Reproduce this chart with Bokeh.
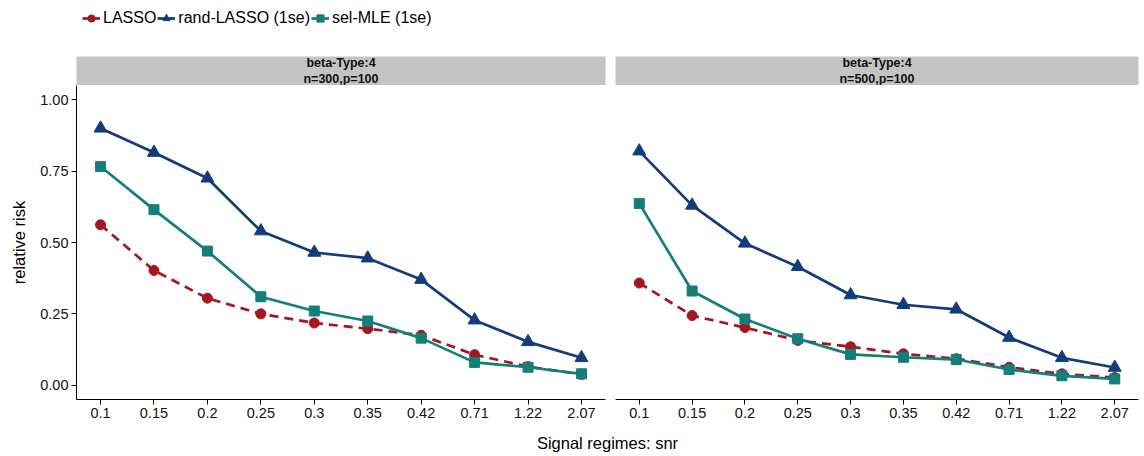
from bokeh.plotting import figure
from bokeh.layouts import column, row
from bokeh.models import Range1d, FixedTicker, Legend, LegendItem, NumeralTickFormatter
from bokeh.core.properties import value
from bokeh.embed import file_html
from bokeh.resources import INLINE

# ---------------- data ----------------
snr = ["0.1", "0.15", "0.2", "0.25", "0.3", "0.35", "0.42", "0.71", "1.22", "2.07"]
methods = ["LASSO", "rand-LASSO (1se)", "sel-MLE (1se)"]
panel_titles = ["beta-Type:4\nn=300,p=100", "beta-Type:4\nn=500,p=100"]
y_ticks = [0.0, 0.25, 0.5, 0.75, 1.0]

# panel n=300
lasso_300 = [0.562, 0.402, 0.305, 0.250, 0.218, 0.198, 0.175, 0.107, 0.065, 0.038]
rand_300 = [0.900, 0.815, 0.725, 0.540, 0.465, 0.445, 0.370, 0.228, 0.152, 0.096]
sel_300 = [0.766, 0.615, 0.470, 0.310, 0.260, 0.225, 0.165, 0.080, 0.063, 0.040]
# panel n=500
lasso_500 = [0.358, 0.244, 0.202, 0.157, 0.135, 0.110, 0.093, 0.063, 0.040, 0.027]
rand_500 = [0.820, 0.630, 0.497, 0.415, 0.316, 0.282, 0.266, 0.167, 0.096, 0.062]
sel_500 = [0.637, 0.330, 0.232, 0.163, 0.108, 0.098, 0.090, 0.055, 0.033, 0.022]

FONT = "Liberation Sans"
COLORS = ["#A31721", "#123C7C", "#147E79"]
MARKERS = ["circle", "triangle", "square"]
MSIZES = [10, 13, 10]
DASHES = ["9 6", "solid", "solid"]
STRIP = "#C4C4C4"

x_idx = list(range(len(snr)))


def panel(width, mbl, mbr, series, show_y):
    p = figure(width=width, height=342, min_border_left=mbl, min_border_right=mbr,
               min_border_top=0, min_border_bottom=28,
               x_range=Range1d(-0.45, len(snr) - 1 + 0.45), y_range=Range1d(-0.05, 1.05),
               output_backend="svg", toolbar_location=None, tools="",
               y_axis_location="left" if show_y else None)
    p.outline_line_color = None
    p.grid.visible = False
    p.background_fill_color = "white"
    p.border_fill_color = "white"
    # lines first, then points
    for vals, col, dash in zip(series, COLORS, DASHES):
        p.line(x_idx, vals, line_color=col, line_width=2.7, line_dash=dash)
    for vals, col, mk, ms in zip(series, COLORS, MARKERS, MSIZES):
        p.scatter(x_idx, vals, marker=mk, size=ms, fill_color=col, line_color=col, line_width=1)
    xa = p.xaxis[0]
    xa.ticker = FixedTicker(ticks=x_idx)
    xa.major_label_overrides = {i: s for i, s in enumerate(snr)}
    for ax in p.axis:
        ax.axis_line_color = "black"
        ax.axis_line_width = 1
        ax.major_tick_line_color = "black"
        ax.major_tick_out = 5
        ax.major_tick_in = 0
        ax.minor_tick_line_color = None
        ax.major_label_text_font = FONT
        ax.major_label_text_font_size = "14.5px"
        ax.major_label_text_color = "#111111"
        ax.major_label_standoff = 3
    if show_y:
        ya = p.yaxis[0]
        ya.ticker = FixedTicker(ticks=y_ticks)
        ya.formatter = NumeralTickFormatter(format="0.00")
        ya.axis_label = "relative risk"
        ya.axis_label_text_font = FONT
        ya.axis_label_text_font_size = "16.5px"
        ya.axis_label_text_font_style = "normal"
        ya.axis_label_text_color = "black"
        ya.axis_label_standoff = 9
    return p


def strip(width, mbl, mbr, label):
    s = figure(width=width, height=29, min_border_left=mbl, min_border_right=mbr,
               min_border_top=0, min_border_bottom=0,
               x_range=Range1d(0, 1), y_range=Range1d(0, 1),
               x_axis_location=None, y_axis_location=None,
               output_backend="svg", toolbar_location=None, tools="")
    s.outline_line_color = None
    s.grid.visible = False
    s.background_fill_color = STRIP
    s.border_fill_color = "white"
    s.text(x=[0.5], y=[0.5], text=[label], text_align="center", text_baseline="middle",
           text_font=value(FONT), text_font_size="12.5px", text_font_style="bold",
           text_color="#111111", text_line_height=1.12)
    return s


p_left = panel(610, 76, 5, [lasso_300, rand_300, sel_300], True)
p_right = panel(534, 5, 6, [lasso_500, rand_500, sel_500], False)
s_left = strip(610, 76, 5, panel_titles[0])
s_right = strip(534, 5, 6, panel_titles[1])

# legend figure
lg = figure(width=1144, height=56, min_border_left=0, min_border_right=0,
            min_border_top=0, min_border_bottom=0,
            x_range=Range1d(0, 1), y_range=Range1d(0, 1),
            x_axis_location=None, y_axis_location=None,
            output_backend="svg", toolbar_location=None, tools="")
lg.outline_line_color = None
lg.grid.visible = False
items = []
for name, col, mk, ms, dash in zip(methods, COLORS, MARKERS, MSIZES, DASHES):
    lr = lg.line([5, 6], [5, 5], line_color=col, line_width=2.7, line_dash="solid")
    sr = lg.scatter([5], [5], marker=mk, size=ms, fill_color=col, line_color=col)
    items.append(LegendItem(label=name, renderers=[lr, sr]))
legend = Legend(items=items, orientation="horizontal", location=(6, 29),
                padding=0, margin=0, spacing=1, label_standoff=3,
                glyph_width=18, glyph_height=18,
                label_text_font=FONT, label_text_font_size="16px",
                label_text_color="black", label_height=18,
                border_line_color=None, background_fill_alpha=0)
lg.add_layout(legend, "center")

# x-axis title figure
xt = figure(width=1144, height=29, min_border_left=76, min_border_right=6,
            min_border_top=0, min_border_bottom=0,
            x_range=Range1d(0, 1), y_range=Range1d(0, 1),
            x_axis_location=None, y_axis_location=None,
            output_backend="svg", toolbar_location=None, tools="")
xt.outline_line_color = None
xt.grid.visible = False
xt.text(x=[0.5], y=[0.45], text=["Signal regimes: snr"], text_align="center",
        text_baseline="middle", text_font=value(FONT), text_font_size="16.5px",
        text_color="black")

layout = column(lg, row(s_left, s_right), row(p_left, p_right), xt)

open("out.html", "w").write(file_html(layout, INLINE))
